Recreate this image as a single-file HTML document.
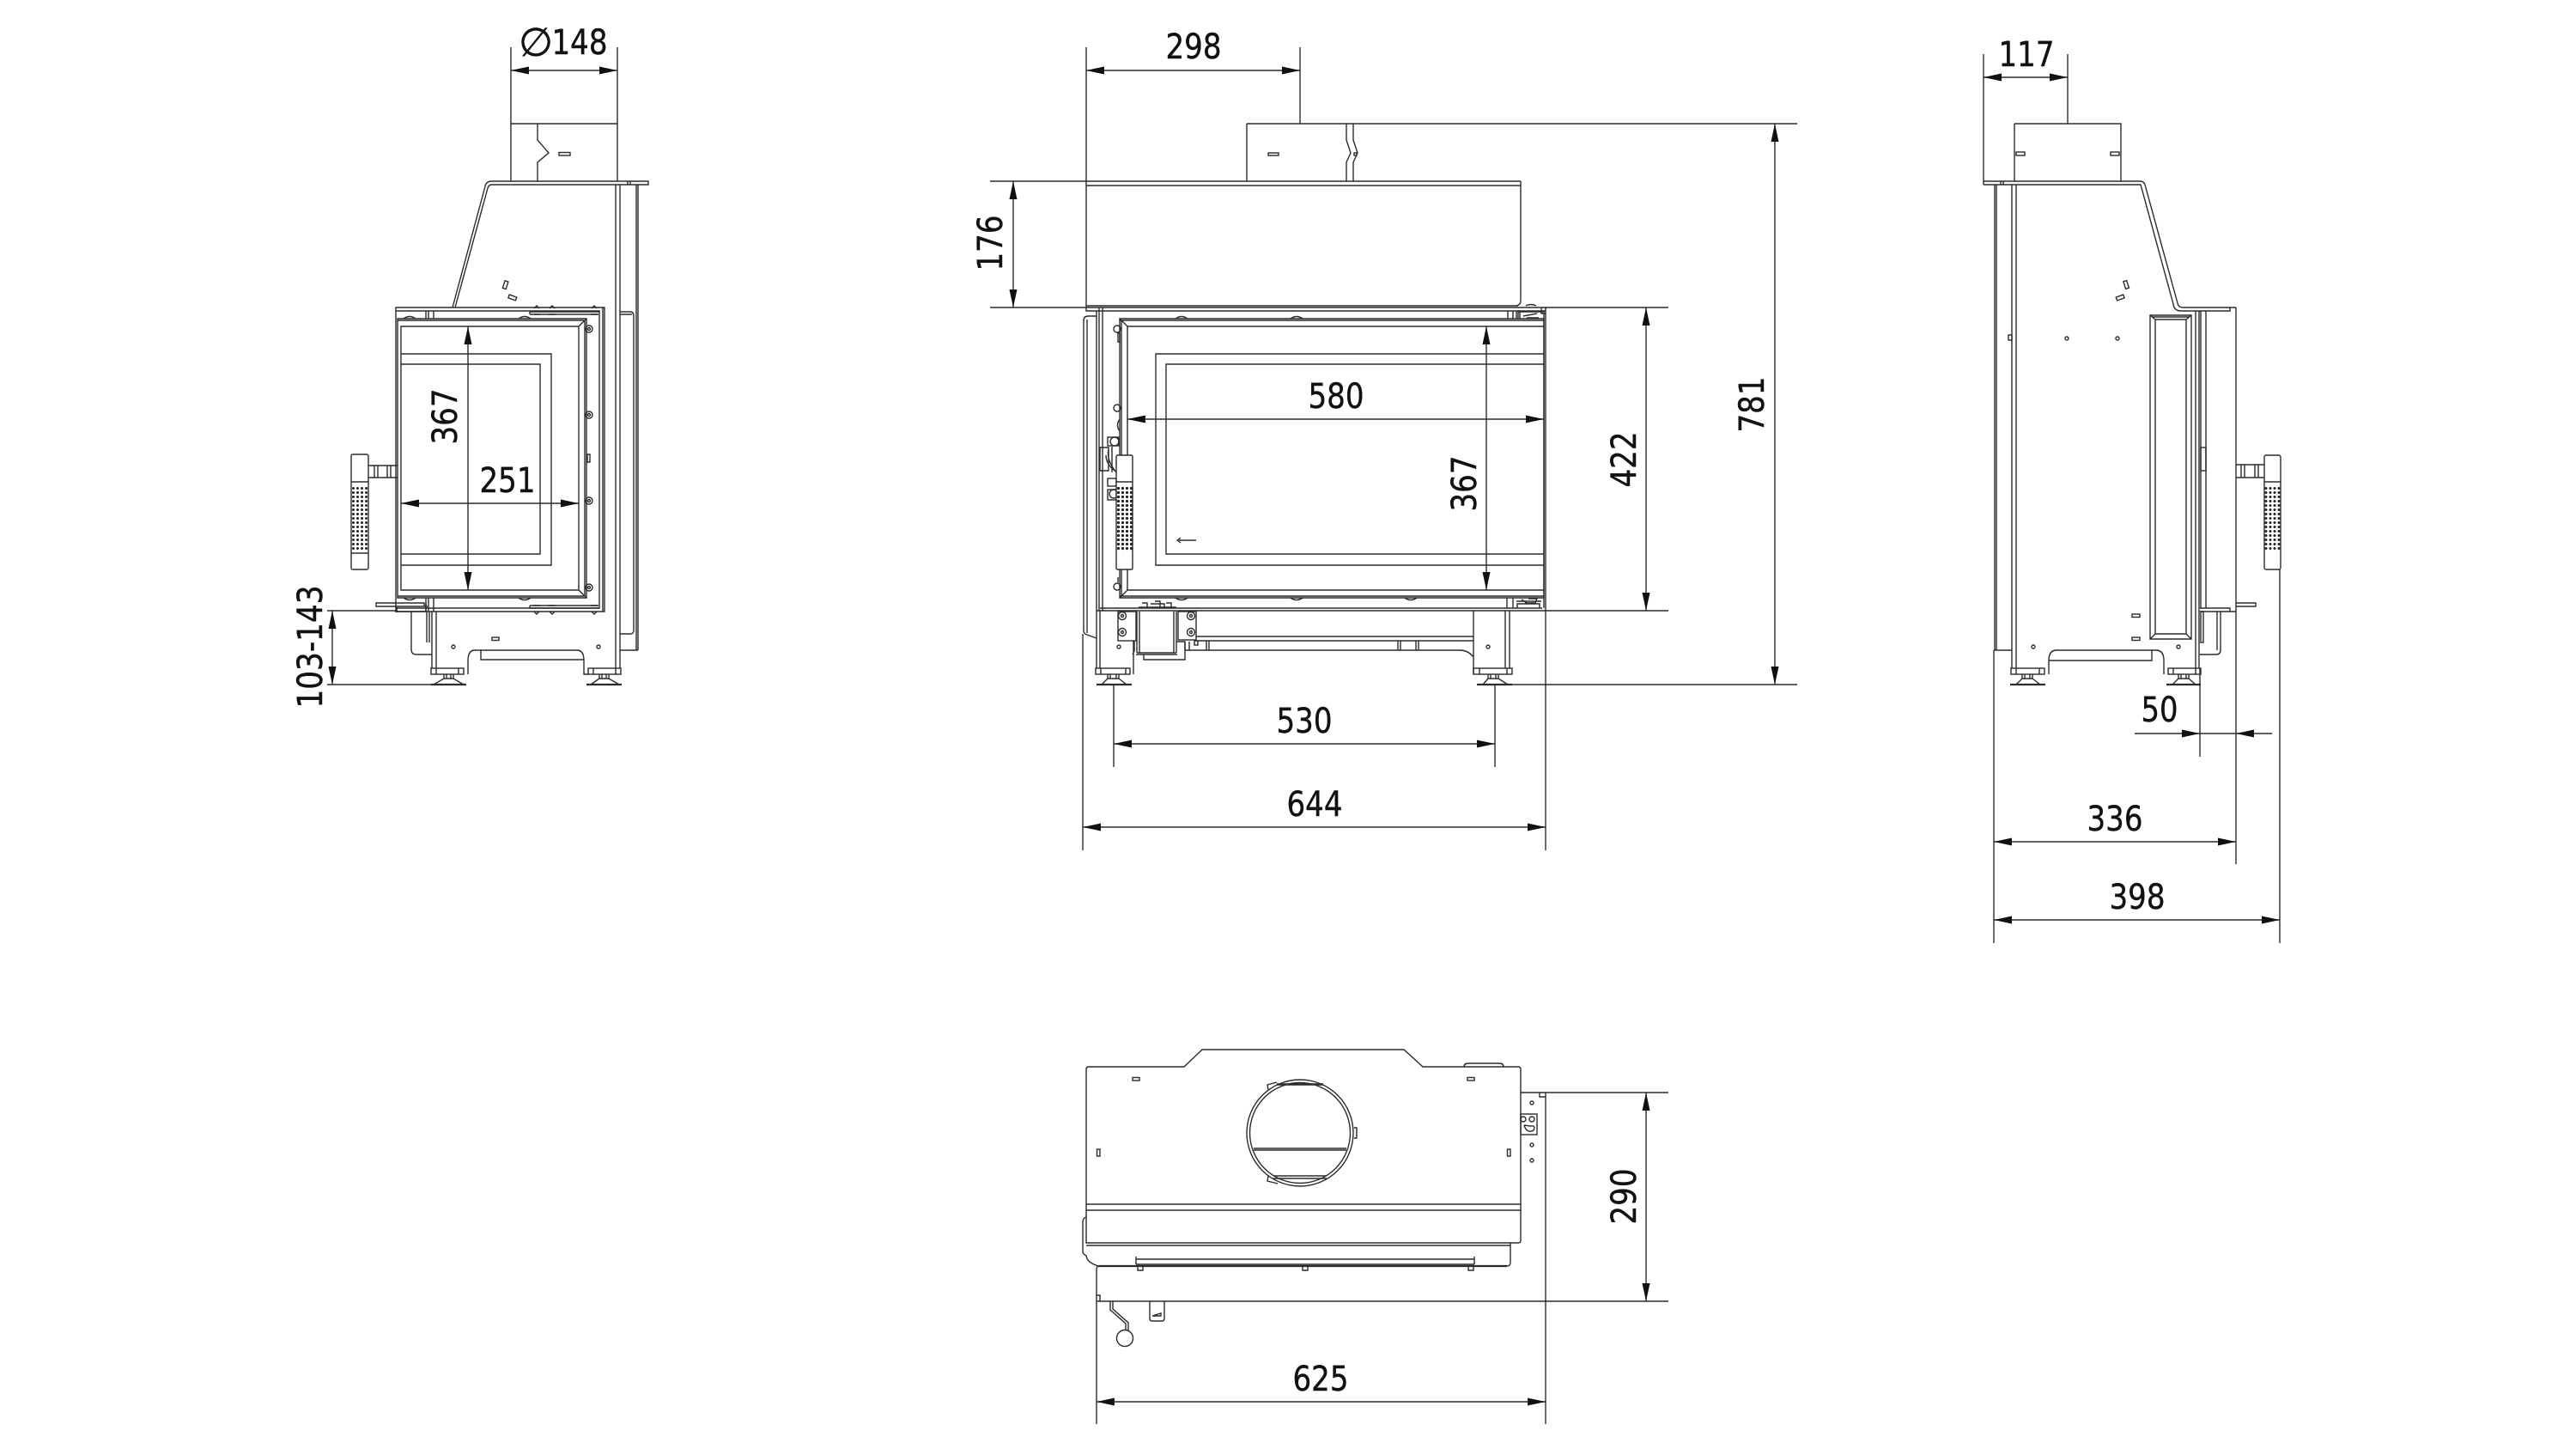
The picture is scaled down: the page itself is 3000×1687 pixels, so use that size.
<!DOCTYPE html>
<html><head><meta charset="utf-8"><style>
html,body{margin:0;padding:0;background:#fff}
svg{display:block}
.s{fill:none;stroke:#2b2b2b;stroke-width:1.4}
.t{fill:none;stroke:#2b2b2b;stroke-width:2.2}
.d{fill:none;stroke:#2b2b2b;stroke-width:1.4}
text{font-family:"DejaVu Sans","Liberation Sans",sans-serif;font-size:40px;fill:#111;stroke:#111;stroke-width:.45;text-anchor:middle}
</style></head><body>
<svg width="3000" height="1687" viewBox="0 0 3000 1687" xmlns="http://www.w3.org/2000/svg">
<defs>
<marker id="a" markerUnits="userSpaceOnUse" markerWidth="22" markerHeight="10" refX="21" refY="4.5" orient="auto-start-reverse"><path d="M0 0L21 4.5L0 9Z" fill="#111"/></marker>
<pattern id="p" patternUnits="userSpaceOnUse" x="409" y="566" width="5" height="5"><circle cx="2.5" cy="2.5" r="1.5" fill="#222"/></pattern>
<pattern id="q" patternUnits="userSpaceOnUse" x="1300" y="566" width="5" height="5"><circle cx="2.5" cy="2.5" r="1.6" fill="#222"/></pattern>
<pattern id="r" patternUnits="userSpaceOnUse" x="2636.500" y="566" width="5" height="5"><circle cx="2.5" cy="2.5" r="1.5" fill="#222"/></pattern>
</defs>
<rect width="3000" height="1687" fill="#fff"/>

<!-- LEFT VIEW -->
<g class="s">
<path d="M595 144H719M595 144V211M719 144V211M626 144V163L639 178L626 189V211"/>
<rect x="651" y="177.500" width="13" height="3.500"/>
<path d="M573 211H755V215H573Q569 215 568 219L530 358M573 211Q566 211 565 217L527 358"/>
<path d="M731 211V215M734 211V215"/>
<path d="M717 215V778M722 215V778M741 215V757M743 215V757M722 757H743"/>
<path d="M722 363H734Q738 363 738 368V734Q738 738 734 738H722M722 366H736"/>
<path d="M461 358H704V712H461ZM461 362H698V708H461M698 362V708M702 358V712"/>
<path d="M463 371H683V696H463ZM467 380H674V687H467ZM683 371L674 380M683 696L674 687M463 373H680M463 694H680M681 373V694"/>
<path d="M467 412H642V658H467M467 424H629V645H467"/>
<path d="M496 362V371M499 362V371M505 362V371M496 696V712M499 696V712M505 696V712"/>
<path d="M617 366V363H698M617 366H697M617 705V708H698M617 705H697"/>
<path d="M470 371Q477 366 484 371M604 371Q611 366 618 371M470 696Q477 701 484 696M604 696Q611 701 618 696"/>
<path d="M621 366H629M639 366H647M688 366H696M621 705H629M639 705H647M688 705H696"/>
<path d="M622 359L625 356L628 359M640 359L643 356L646 359M689 359L692 356L695 359M622 712L625 715L628 712M640 712L643 715L646 712M689 712L692 715L695 712"/>
<circle cx="686" cy="383" r="4"/><circle cx="686" cy="483" r="4"/><circle cx="686" cy="583" r="4"/><circle cx="686" cy="684" r="4"/>
<circle cx="686" cy="383" r="1.500"/><circle cx="686" cy="483" r="1.500"/><circle cx="686" cy="583" r="1.500"/><circle cx="686" cy="684" r="1.500"/>
<path d="M684 529H687V538H684Z"/>
<rect x="586.500" y="327" width="4" height="9" transform="rotate(18 588 332)"/>
<rect x="592.500" y="344.500" width="9" height="4" transform="rotate(20 597 346)"/>
<rect x="409" y="529" width="20" height="134" rx="2"/>
<path d="M409 561H429M409 644H429M429 542H463M429 556H463M436 542V556M440 542V556M451 542V556M455 542V556"/>
<rect x="409" y="566" width="20" height="76" fill="url(#p)" stroke="none"/>
<path d="M438 702H494V706H438ZM460 706H498M462 706V712M460 712H496V702"/>
<path d="M479 712V756Q479 762 485 762H503"/>
<path d="M503 712V778M508 712V778M500 712V748M497 712V748"/>
<path d="M680 778V769Q680 757 672 757H553Q545 757 545 769V785M680 778V785H685M560 757V768H680"/>
<rect x="502" y="778" width="38" height="7"/><rect x="685" y="778" width="38" height="7"/>
<path d="M508 778V785M534 778V785M691 778V785M717 778V785"/>
<path d="M517 785V790H528V785M520 785V790M525 785V790M505 797L517 790M540 797L528 790"/>
<path d="M698 785V790H709V785M701 785V790M706 785V790M688 797L698 790M721 797L709 790"/>
<circle cx="528" cy="753" r="2"/><circle cx="697" cy="753" r="2"/><rect x="573" y="742" width="8" height="3.500"/>
</g>
<path class="t" d="M502 797H543M683 797H724"/>
<line class="d" x1="595" y1="82" x2="719" y2="82" marker-start="url(#a)" marker-end="url(#a)"/>
<path class="d" d="M595 55V144M719 55V144M381 711H463M381 797H502"/>
<line class="d" x1="387" y1="711" x2="387" y2="797" marker-start="url(#a)" marker-end="url(#a)"/>
<line class="d" x1="545" y1="380" x2="545" y2="687" marker-start="url(#a)" marker-end="url(#a)"/>
<line class="d" x1="467" y1="586" x2="674" y2="586" marker-start="url(#a)" marker-end="url(#a)"/>
<text x="624" y="65" font-size="46" style="font-size:46px" textLength="38">∅</text>
<text x="675" y="63" textLength="65" lengthAdjust="spacingAndGlyphs">148</text>
<text transform="translate(532 485) rotate(-90)" textLength="65" lengthAdjust="spacingAndGlyphs">367</text>
<text x="591" y="573" textLength="65" lengthAdjust="spacingAndGlyphs">251</text>
<text transform="translate(375 753) rotate(-90)" textLength="143" lengthAdjust="spacingAndGlyphs">103-143</text>

<!-- FRONT VIEW -->
<g class="s">
<path d="M1452 144V211M1568 144V163L1573 178L1568 189V211M1576 144V163L1581 178L1576 189V211"/>
<rect x="1477" y="178" width="12" height="3"/><rect x="1577" y="178" width="3" height="3"/>
<path d="M1265 216H1771M1771 211V350Q1771 355 1766 356M1265 211H1771"/>
<path d="M1265 356H1768M1265 358H1800V711H1277V362H1800M1280 358V711M1284 358V711M1265 358V362H1278"/>
<path d="M1798 362V708M1756 362V371M1762 362V371M1766 362V371M1768 362V371M1770 362V371"/>
<path d="M1281 708H1796M1262 373V734Q1262 738 1266 739L1277 743M1268 368H1277M1262 373Q1262 368 1268 368M1266 372V737"/>
<path d="M1304 371H1798V696H1304ZM1304 373H1798M1304 694H1798M1313 380H1798M1313 380V687H1798M1304 371L1313 380M1304 696L1313 687M1306 373V694"/>
<path d="M1798 412H1346V658H1798M1798 424H1358V645H1798"/>
<path d="M1369 371Q1376 366 1383 371M1503 371Q1510 366 1517 371M1369 696Q1376 701 1383 696M1503 696Q1510 701 1517 696M1636 696Q1643 701 1650 696M1777 356Q1783 353 1789 356"/>
<circle cx="1301" cy="383" r="4"/><path d="M1302 388H1304V398H1302ZM1304 488Q1299 495 1304 502"/>
<circle cx="1301" cy="475" r="4"/>
<rect x="1290" y="509" width="13" height="10"/><circle cx="1298" cy="514" r="5"/>
<path d="M1281 521H1291V548H1281ZM1291 523Q1288 535 1300 550M1288 530Q1288 540 1298 548M1295 520V550"/>
<rect x="1290" y="557" width="10" height="9"/><rect x="1290" y="570" width="10" height="12"/><circle cx="1297" cy="575" r="5"/>
<circle cx="1301" cy="683" r="4"/><path d="M1302 672V678"/>
<rect x="1300" y="530" width="19" height="133" rx="1.500" fill="#fff"/>
<path d="M1300 561H1319"/>
<rect x="1300" y="566" width="19" height="76" fill="url(#q)" stroke="none"/>
<path d="M1277 711V778M1281 711V778M1320 746V785M1716 711V785M1753 711V778M1758 711V778"/>
<rect x="1276" y="778" width="40" height="7"/><rect x="1716" y="778" width="45" height="7"/>
<path d="M1282 778V785M1311 778V785M1723 778V785M1755 778V785"/>
<path d="M1290 785V790H1303V785M1293 785V790M1300 785V790M1283 797L1290 790M1312 797L1303 790"/>
<path d="M1733 785V790H1745V785M1736 785V790M1742 785V790M1727 797L1733 790M1756 797L1745 790"/>
<rect x="1302" y="712" width="21" height="34"/><rect x="1372" y="712" width="21" height="33"/>
<circle cx="1307" cy="717" r="4.500"/><circle cx="1307" cy="736" r="4.500"/><circle cx="1387" cy="717" r="4.500"/><circle cx="1387" cy="736" r="4.500"/>
<circle cx="1307" cy="717" r="1.500"/><circle cx="1307" cy="736" r="1.500"/><circle cx="1387" cy="717" r="1.500"/><circle cx="1387" cy="736" r="1.500"/>
<circle cx="1303" cy="753" r="2"/><circle cx="1733" cy="753" r="2"/><rect x="1391" y="746" width="4" height="5"/>
<path d="M1324 712V760M1327 712V760M1367 712V760M1370 712V760M1324 760H1370M1323 762H1371M1332 762V768H1380V747H1370M1321 746V758L1319 762"/>
<path d="M1326 707H1370M1330 702H1336V707M1358 702H1364V707M1340 703H1356V707M1345 700H1351V707"/>
<path d="M1393 741H1716M1393 746H1716M1380 757H1700Q1710 757 1716 765M1380 747V757M1385 747V757M1405 746V757M1408 746V757M1628 746V757M1631 746V757M1649 746V757M1652 746V757"/>
<path d="M1755 696V708M1762 696V708M1766 700H1795M1767 708V703H1793V708"/>
<path d="M1772 698L1778 702M1780 697H1790L1788 702H1776M1768 363H1797M1795 358V365H1800M1774 368L1790 365M1778 370H1792"/>
<path d="M1373 629H1393M1375 626L1371 629L1375 632"/>
</g>
<path class="t" d="M1277 797H1318M1720 797H1761"/>
<path class="d" d="M1265 55V358M1514 55V144M1452 144H2093M1153 211H1265M1153 358H1265M1800 358H1943M1800 711H1943M1761 797H2093M1261 738V990M1800 711V990M1297 797V893M1741 797V893"/>
<line class="d" x1="1265" y1="82" x2="1514" y2="82" marker-start="url(#a)" marker-end="url(#a)"/>
<line class="d" x1="1180" y1="211" x2="1180" y2="358" marker-start="url(#a)" marker-end="url(#a)"/>
<line class="d" x1="1313" y1="488" x2="1798" y2="488" marker-start="url(#a)" marker-end="url(#a)"/>
<line class="d" x1="1731" y1="380" x2="1731" y2="687" marker-start="url(#a)" marker-end="url(#a)"/>
<line class="d" x1="1917" y1="358" x2="1917" y2="711" marker-start="url(#a)" marker-end="url(#a)"/>
<line class="d" x1="2067" y1="144" x2="2067" y2="797" marker-start="url(#a)" marker-end="url(#a)"/>
<line class="d" x1="1297" y1="866" x2="1741" y2="866" marker-start="url(#a)" marker-end="url(#a)"/>
<line class="d" x1="1261" y1="963" x2="1800" y2="963" marker-start="url(#a)" marker-end="url(#a)"/>
<text x="1390" y="68" textLength="65" lengthAdjust="spacingAndGlyphs">298</text>
<text transform="translate(1167 283) rotate(-90)" textLength="65" lengthAdjust="spacingAndGlyphs">176</text>
<text x="1556" y="475" textLength="65" lengthAdjust="spacingAndGlyphs">580</text>
<text transform="translate(1719 563) rotate(-90)" textLength="65" lengthAdjust="spacingAndGlyphs">367</text>
<text transform="translate(1905 535) rotate(-90)" textLength="65" lengthAdjust="spacingAndGlyphs">422</text>
<text transform="translate(2054 471) rotate(-90)" textLength="65" lengthAdjust="spacingAndGlyphs">781</text>
<text x="1519" y="853" textLength="65" lengthAdjust="spacingAndGlyphs">530</text>
<text x="1531" y="950" textLength="65" lengthAdjust="spacingAndGlyphs">644</text>

<!-- RIGHT VIEW -->
<g class="s">
<path d="M2346 144H2470V211M2346 144V211"/>
<rect x="2348" y="177" width="10" height="4"/><rect x="2458" y="177" width="10" height="4"/>
<path d="M2310 211H2492Q2497 211 2498 215L2536 353Q2537 358 2542 358H2604M2310 215H2489L2493 215L2531 354Q2532 362 2540 362H2597V358M2310 211V215M2330 211V215M2333 211V215"/>
<path d="M2323 215V757M2325 215V757M2322 757H2343M2343 215V778M2348 215V778"/>
<rect x="2339" y="390" width="4" height="6"/>
<circle cx="2407" cy="394" r="2"/><circle cx="2466" cy="394" r="2"/><circle cx="2368" cy="753" r="2"/><circle cx="2537" cy="753" r="2"/>
<rect x="2474" y="327" width="4" height="9" transform="rotate(-18 2476 331)"/>
<rect x="2464.500" y="344.500" width="9" height="4" transform="rotate(-20 2469 346)"/>
<path d="M2504 367H2552V744H2504ZM2510 372H2546V738H2510ZM2504 367L2510 372M2552 367L2546 372M2504 744L2510 738M2552 744L2546 738M2506 369H2550"/>
<path d="M2557 362V778M2561 362V778M2563 362V708M2569 362V708M2604 358V712"/>
<rect x="2563" y="521" width="6" height="27"/>
<rect x="2637" y="530" width="19" height="133" rx="2"/>
<path d="M2637 561H2656M2604 541H2637M2604 556H2637M2610 541V556M2614 541V556M2626 541V556M2630 541V556"/>
<rect x="2637" y="566" width="19" height="76" fill="url(#r)" stroke="none"/>
<path d="M2562 708H2597V712H2562M2597 712H2604M2604 702H2627V706H2604"/>
<path d="M2586 712V757Q2586 762 2581 762H2562M2582 712V757"/>
<rect x="2563" y="712" width="3" height="36"/>
<rect x="2342" y="778" width="39" height="7"/><rect x="2525" y="778" width="38" height="7"/>
<path d="M2348 778V785M2375 778V785M2531 778V785M2557 778V785"/>
<path d="M2386 785V769Q2386 757 2395 757H2511Q2520 757 2520 769V785M2386 769H2506V757"/>
<path d="M2355 785V790H2367V785M2358 785V790M2364 785V790M2348 797L2355 790M2376 797L2367 790"/>
<path d="M2537 785V790H2549V785M2540 785V790M2546 785V790M2530 797L2537 790M2557 797L2549 790"/>
<rect x="2483" y="715" width="9" height="3.500"/><rect x="2483" y="742" width="9" height="3.500"/>
</g>
<path class="t" d="M2341 797H2382M2523 797H2563"/>
<path class="d" d="M2310 63V211M2408 63V144M2322 757V1098M2562 778V881M2604 712V1006M2655 663V1098"/>
<line class="d" x1="2310" y1="90" x2="2408" y2="90" marker-start="url(#a)" marker-end="url(#a)"/>
<line class="d" x1="2322" y1="980" x2="2604" y2="980" marker-start="url(#a)" marker-end="url(#a)"/>
<line class="d" x1="2322" y1="1071" x2="2655" y2="1071" marker-start="url(#a)" marker-end="url(#a)"/>
<line class="d" x1="2486" y1="854" x2="2562" y2="854" marker-end="url(#a)"/>
<line class="d" x1="2646" y1="854" x2="2604" y2="854" marker-end="url(#a)"/>
<path class="d" d="M2562 854H2604"/>
<text x="2360" y="77" textLength="65" lengthAdjust="spacingAndGlyphs">117</text>
<text x="2515" y="840" textLength="43" lengthAdjust="spacingAndGlyphs">50</text>
<text x="2463" y="967" textLength="65" lengthAdjust="spacingAndGlyphs">336</text>
<text x="2489" y="1058" textLength="65" lengthAdjust="spacingAndGlyphs">398</text>

<!-- BOTTOM VIEW -->
<g class="s">
<path d="M1268 1242H1379L1400 1222H1635L1657 1242H1768Q1771 1242 1771 1245V1444Q1771 1447 1768 1447H1265V1245Q1265 1242 1268 1242Z"/>
<path d="M1705 1242Q1705 1238 1710 1238H1746Q1751 1238 1751 1242"/>
<path d="M1265 1402H1771M1265 1409H1771M1265 1450H1759"/>
<rect x="1319" y="1254.500" width="8" height="3.500"/><rect x="1709" y="1254.500" width="8" height="3.500"/>
<rect x="1277.500" y="1338" width="3.500" height="8"/><rect x="1755.500" y="1338" width="3.500" height="8"/>
<circle cx="1514" cy="1319" r="62"/><circle cx="1514" cy="1319" r="58.500"/>
<path d="M1460 1337H1568M1460 1339H1568M1483 1369H1545M1483 1372H1545M1487 1263H1541M1487 1262H1541"/>
<path d="M1477 1269L1476 1263L1487 1260M1477 1369L1476 1375L1488 1378M1577 1313H1580V1325H1577"/>
<path d="M1771 1272H1800V1515M1793 1272V1277H1800"/>
<circle cx="1784" cy="1284" r="2"/><circle cx="1784" cy="1333" r="2"/><circle cx="1784" cy="1351" r="2"/>
<rect x="1771" y="1297" width="19" height="24"/>
<circle cx="1774" cy="1303" r="3"/><circle cx="1784" cy="1303" r="3"/><path d="M1775 1310Q1778 1320 1786 1316Q1789 1310 1782 1311L1775 1310"/>
<path d="M1265 1417Q1261 1418 1261 1423V1457Q1261 1460 1265 1462Q1266 1470 1279 1474H1755Q1759 1474 1759 1470V1447"/>
<path d="M1279 1474Q1277 1475 1277 1478V1515H1800M1277 1508H1281V1515"/>
<path d="M1323 1463V1472M1717 1463V1472M1323 1466H1717M1323 1472H1717"/>
<path d="M1325 1474H1331V1479H1325ZM1517 1474H1523V1479H1517ZM1710 1474H1716V1479H1710Z"/>
<path d="M1293 1515V1525L1311 1541V1549M1296 1515V1524L1314 1540V1549"/>
<circle cx="1310" cy="1558" r="9.500"/>
<path d="M1339 1515V1535Q1339 1538 1342 1538H1353Q1356 1538 1356 1535V1515M1342 1532L1352 1529V1532Z"/>
</g>
<path class="t" d="M1279 1474H1755"/>
<path class="d" d="M1800 1272H1943M1800 1515H1943M1277 1515V1658M1800 1515V1658"/>
<line class="d" x1="1917" y1="1272" x2="1917" y2="1515" marker-start="url(#a)" marker-end="url(#a)"/>
<line class="d" x1="1277" y1="1632" x2="1800" y2="1632" marker-start="url(#a)" marker-end="url(#a)"/>
<text transform="translate(1905 1393) rotate(-90)" textLength="65" lengthAdjust="spacingAndGlyphs">290</text>
<text x="1538" y="1619" textLength="65" lengthAdjust="spacingAndGlyphs">625</text>
</svg>
</body></html>
